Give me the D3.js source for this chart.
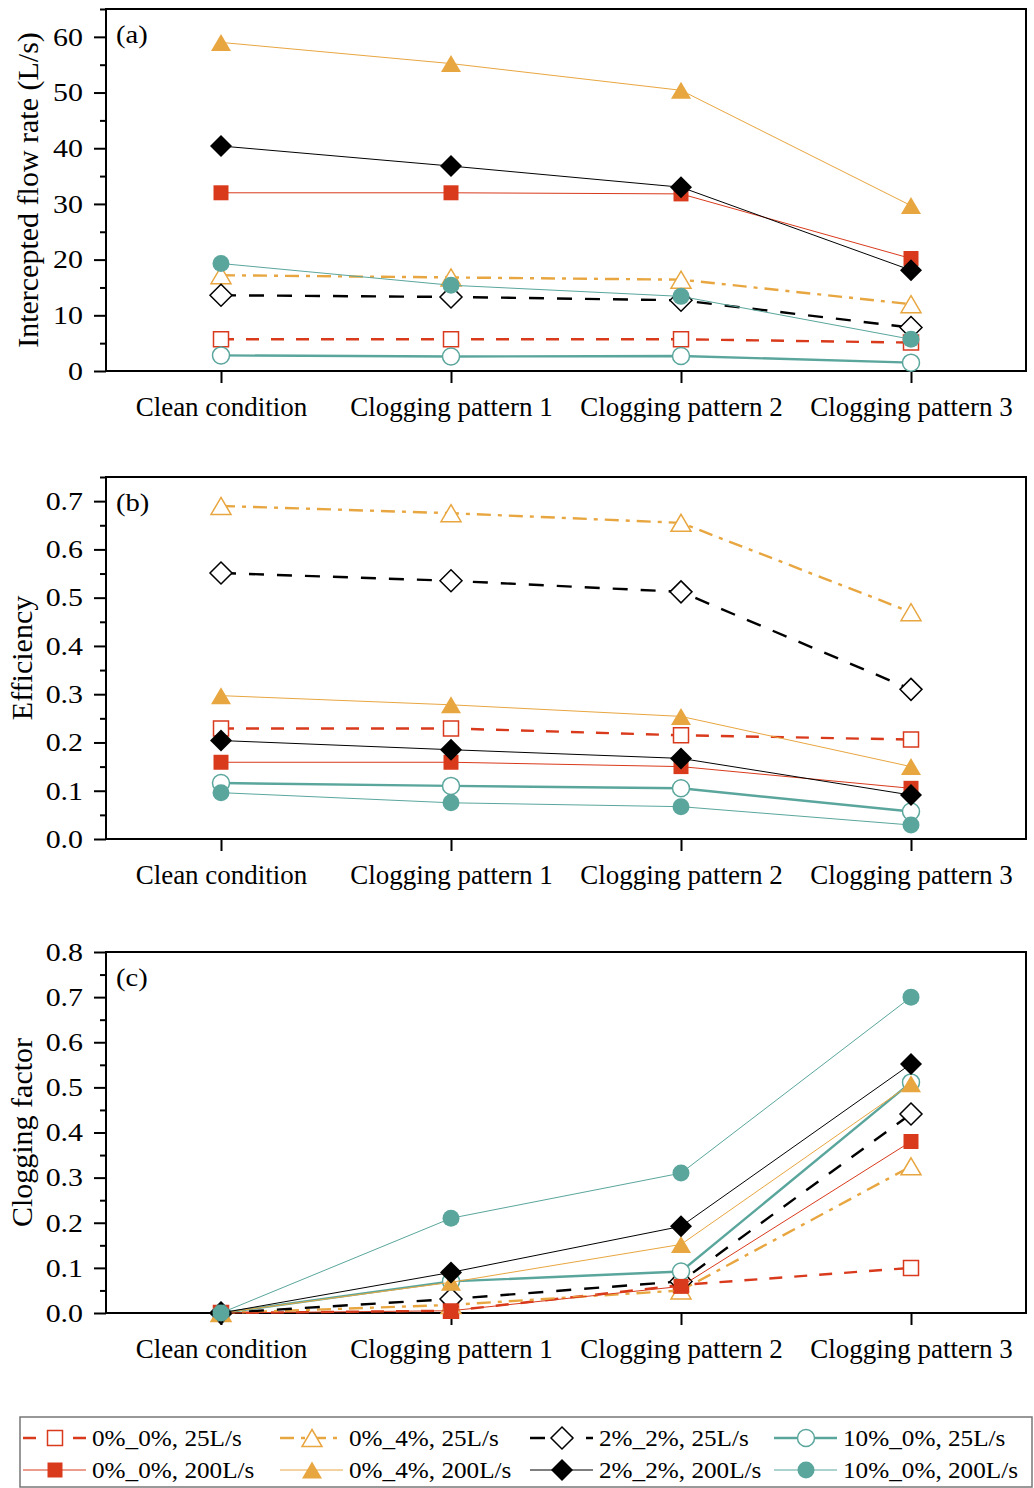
<!DOCTYPE html>
<html>
<head>
<meta charset="utf-8">
<script src="https://cdn.jsdelivr.net/npm/d3@7"></script>
<style>
  html, body { margin: 0; padding: 0; background: #ffffff; }
  svg { display: block; }
  text { font-family: "Liberation Serif", "Times New Roman", serif; fill: #000; }
</style>
</head>
<body>
<script>
// Test conditions along the x axis
const categories = ["Clean condition", "Clogging pattern 1", "Clogging pattern 2", "Clogging pattern 3"];

// Series labels (inlet clogging ratio _ grate clogging ratio, approach flow)
const seriesNames = [
  "0%_0%, 25L/s", "0%_4%, 25L/s", "2%_2%, 25L/s", "10%_0%, 25L/s",
  "0%_0%, 200L/s", "0%_4%, 200L/s", "2%_2%, 200L/s", "10%_0%, 200L/s"
];

// (a) Intercepted flow rate (L/s)
const flow_0_0_25   = [5.7, 5.7, 5.7, 5.1];
const flow_0_4_25   = [17.2, 16.8, 16.4, 12.0];
const flow_2_2_25   = [13.6, 13.3, 12.7, 7.8];
const flow_10_0_25  = [2.8, 2.6, 2.7, 1.5];
const flow_0_0_200  = [32.0, 32.0, 31.8, 20.2];
const flow_0_4_200  = [59.0, 55.2, 50.4, 29.7];
const flow_2_2_200  = [40.4, 36.8, 33.0, 18.1];
const flow_10_0_200 = [19.3, 15.4, 13.4, 5.7];

// (b) Efficiency
const eff_0_0_25   = [0.229, 0.229, 0.215, 0.206];
const eff_0_4_25   = [0.690, 0.675, 0.655, 0.470];
const eff_2_2_25   = [0.551, 0.535, 0.512, 0.310];
const eff_10_0_25  = [0.116, 0.110, 0.105, 0.057];
const eff_0_0_200  = [0.159, 0.159, 0.150, 0.105];
const eff_0_4_200  = [0.297, 0.278, 0.254, 0.150];
const eff_2_2_200  = [0.204, 0.185, 0.167, 0.091];
const eff_10_0_200 = [0.096, 0.075, 0.067, 0.029];

// (c) Clogging factor
const cf_0_0_25   = [0, 0.005, 0.062, 0.100];
const cf_0_4_25   = [0, 0.018, 0.050, 0.325];
const cf_2_2_25   = [0, 0.031, 0.070, 0.441];
const cf_10_0_25  = [0, 0.070, 0.092, 0.511];
const cf_0_0_200  = [0, 0.005, 0.059, 0.380];
const cf_0_4_200  = [0, 0.068, 0.152, 0.508];
const cf_2_2_200  = [0, 0.090, 0.192, 0.552];
const cf_10_0_200 = [0, 0.210, 0.310, 0.700];

// Y axis ticks per panel
const flowTicks = [0, 10, 20, 30, 40, 50, 60];
const effTicks = [0.0, 0.1, 0.2, 0.3, 0.4, 0.5, 0.6, 0.7];
const cfTicks = [0.0, 0.1, 0.2, 0.3, 0.4, 0.5, 0.6, 0.7, 0.8];

const RED = "#d93a1c", ORANGE = "#e8a640", BLACK = "#000000", TEAL = "#5aa69d";

// Per-series drawing style
const styles = [
  { color: RED,    shape: "square",   filled: false, width: 2.4, dash: "13,12" },
  { color: ORANGE, shape: "triangle", filled: false, width: 2.4, dash: "14,7,4,7" },
  { color: BLACK,  shape: "diamond",  filled: false, width: 2.4, dash: "15,13" },
  { color: TEAL,   shape: "circle",   filled: false, width: 2.4, dash: null },
  { color: RED,    shape: "square",   filled: true,  width: 1,   dash: null },
  { color: ORANGE, shape: "triangle", filled: true,  width: 1,   dash: null },
  { color: BLACK,  shape: "diamond",  filled: true,  width: 1,   dash: null },
  { color: TEAL,   shape: "circle",   filled: true,  width: 1,   dash: null }
];

const panels = [
  { tag: "(a)", title: "Intercepted flow rate (L/s)", top: 9, bottom: 371, max: 65, minor: 5,
    ticks: flowTicks, fmt: d3.format("d"), titleX: 38,
    series: [flow_0_0_25, flow_0_4_25, flow_2_2_25, flow_10_0_25, flow_0_0_200, flow_0_4_200, flow_2_2_200, flow_10_0_200] },
  { tag: "(b)", title: "Efficiency", top: 477, bottom: 839, max: 0.75, minor: 0.05,
    ticks: effTicks, fmt: d3.format(".1f"), titleX: 32,
    series: [eff_0_0_25, eff_0_4_25, eff_2_2_25, eff_10_0_25, eff_0_0_200, eff_0_4_200, eff_2_2_200, eff_10_0_200] },
  { tag: "(c)", title: "Clogging factor", top: 952, bottom: 1313, max: 0.8, minor: 0.05,
    ticks: cfTicks, fmt: d3.format(".1f"), titleX: 32,
    series: [cf_0_0_25, cf_0_4_25, cf_2_2_25, cf_10_0_25, cf_0_0_200, cf_0_4_200, cf_2_2_200, cf_10_0_200] }
];

const W = 1034, H = 1488;
const left = 106, right = 1026;

const svg = d3.select("body").append("svg").attr("width", W).attr("height", H);
svg.append("rect").attr("width", W).attr("height", H).attr("fill", "#ffffff");

const x = d3.scaleLinear().domain([0.5, categories.length + 0.5]).range([left, right]);

function markerPath(shape) {
  switch (shape) {
    case "square":   return "M-7.5,-7.5H7.5V7.5H-7.5Z";
    case "triangle": return "M0,-8.5L10,8.5L-10,8.5Z";
    case "diamond":  return "M0,-11L11,0L0,11L-11,0Z";
    default:         return d3.arc()({ innerRadius: 0, outerRadius: 8.5, startAngle: 0, endAngle: 2 * Math.PI });
  }
}

function drawMarker(g, st, cx, cy) {
  g.append("path")
    .attr("d", markerPath(st.shape))
    .attr("transform", `translate(${cx},${cy})`)
    .attr("fill", st.filled ? st.color : "#ffffff")
    .attr("stroke", st.filled ? "none" : st.color)
    .attr("stroke-width", st.filled ? 0 : 1.5);
}

// Widen glyphs horizontally to the figure's text proportions
function stretch(sel, factor) {
  sel.each(function () {
    const len = this.getComputedTextLength();
    d3.select(this).attr("textLength", len * factor).attr("lengthAdjust", "spacingAndGlyphs");
  });
}

panels.forEach(p => {
  const y = d3.scaleLinear().domain([0, p.max]).range([p.bottom, p.top]);
  const g = svg.append("g");

  // Minor ticks
  const minorVals = d3.range(0, p.max + 1e-9, p.minor).filter(v => !p.ticks.some(t => Math.abs(t - v) < 1e-9));
  g.append("g").attr("transform", `translate(${left},0)`)
    .call(d3.axisLeft(y).tickValues(minorVals).tickSize(6).tickFormat(""))
    .call(a => a.select(".domain").remove())
    .call(a => a.selectAll("line").attr("stroke-width", 2));

  // Major ticks with labels
  const ya = g.append("g").attr("transform", `translate(${left},0)`)
    .call(d3.axisLeft(y).tickValues(p.ticks).tickSize(12).tickPadding(11).tickFormat(p.fmt))
    .call(a => a.select(".domain").remove())
    .call(a => a.selectAll("line").attr("stroke-width", 2));
  ya.selectAll("text").attr("font-size", 26).attr("fill", "#000");
  stretch(ya.selectAll("text"), 1.15);

  // Category axis
  const xa = g.append("g").attr("transform", `translate(0,${p.bottom})`)
    .call(d3.axisBottom(x).tickValues(categories.map((c, i) => i + 1)).tickSize(12).tickPadding(14)
      .tickFormat(i => categories[i - 1]))
    .call(a => a.select(".domain").remove())
    .call(a => a.selectAll("line").attr("stroke-width", 2));
  xa.selectAll("text").attr("font-size", 27).attr("fill", "#000");

  // Frame
  g.append("rect")
    .attr("x", left).attr("y", p.top)
    .attr("width", right - left).attr("height", p.bottom - p.top)
    .attr("fill", "none").attr("stroke", "#000").attr("stroke-width", 2);

  // Axis title
  g.append("text")
    .attr("transform", `translate(${p.titleX},${(p.top + p.bottom) / 2}) rotate(-90)`)
    .attr("text-anchor", "middle")
    .attr("font-size", 30)
    .text(p.title);

  // Panel tag
  const tag = g.append("text")
    .attr("x", 116).attr("y", p.top + 34)
    .attr("font-size", 26)
    .text(p.tag);
  stretch(tag, 1.1);

  // Series lines, then markers (later series drawn on top)
  const line = d3.line().x((d, i) => x(i + 1)).y(d => y(d));
  p.series.forEach((vals, si) => {
    const st = styles[si];
    const sg = g.append("g");
    sg.append("path")
      .attr("d", line(vals))
      .attr("fill", "none")
      .attr("stroke", st.color)
      .attr("stroke-width", st.width)
      .attr("stroke-dasharray", st.dash);
    vals.forEach((v, i) => drawMarker(sg, st, x(i + 1), y(v)));
  });
});

// Legend
const lg = svg.append("g");
lg.append("rect")
  .attr("x", 20).attr("y", 1417).attr("width", 1012).attr("height", 70)
  .attr("fill", "#ffffff").attr("stroke", "#777").attr("stroke-width", 1.5);

const colStart = [23, 280, 530, 774];
const rowY = [1438, 1470];
seriesNames.forEach((name, i) => {
  const st = styles[i];
  const col = i % 4, row = Math.floor(i / 4);
  const x0 = colStart[col], cy = rowY[row];
  const item = lg.append("g");
  item.append("line")
    .attr("x1", x0).attr("x2", x0 + 63).attr("y1", cy).attr("y2", cy)
    .attr("stroke", st.color)
    .attr("stroke-width", st.width)
    .attr("stroke-dasharray", st.dash);
  drawMarker(item, st, x0 + 32, cy);
  const t = item.append("text")
    .attr("x", x0 + 69).attr("y", cy + 8)
    .attr("font-size", 24)
    .text(name);
  stretch(t, 1.05);
});
</script>
</body>
</html>
